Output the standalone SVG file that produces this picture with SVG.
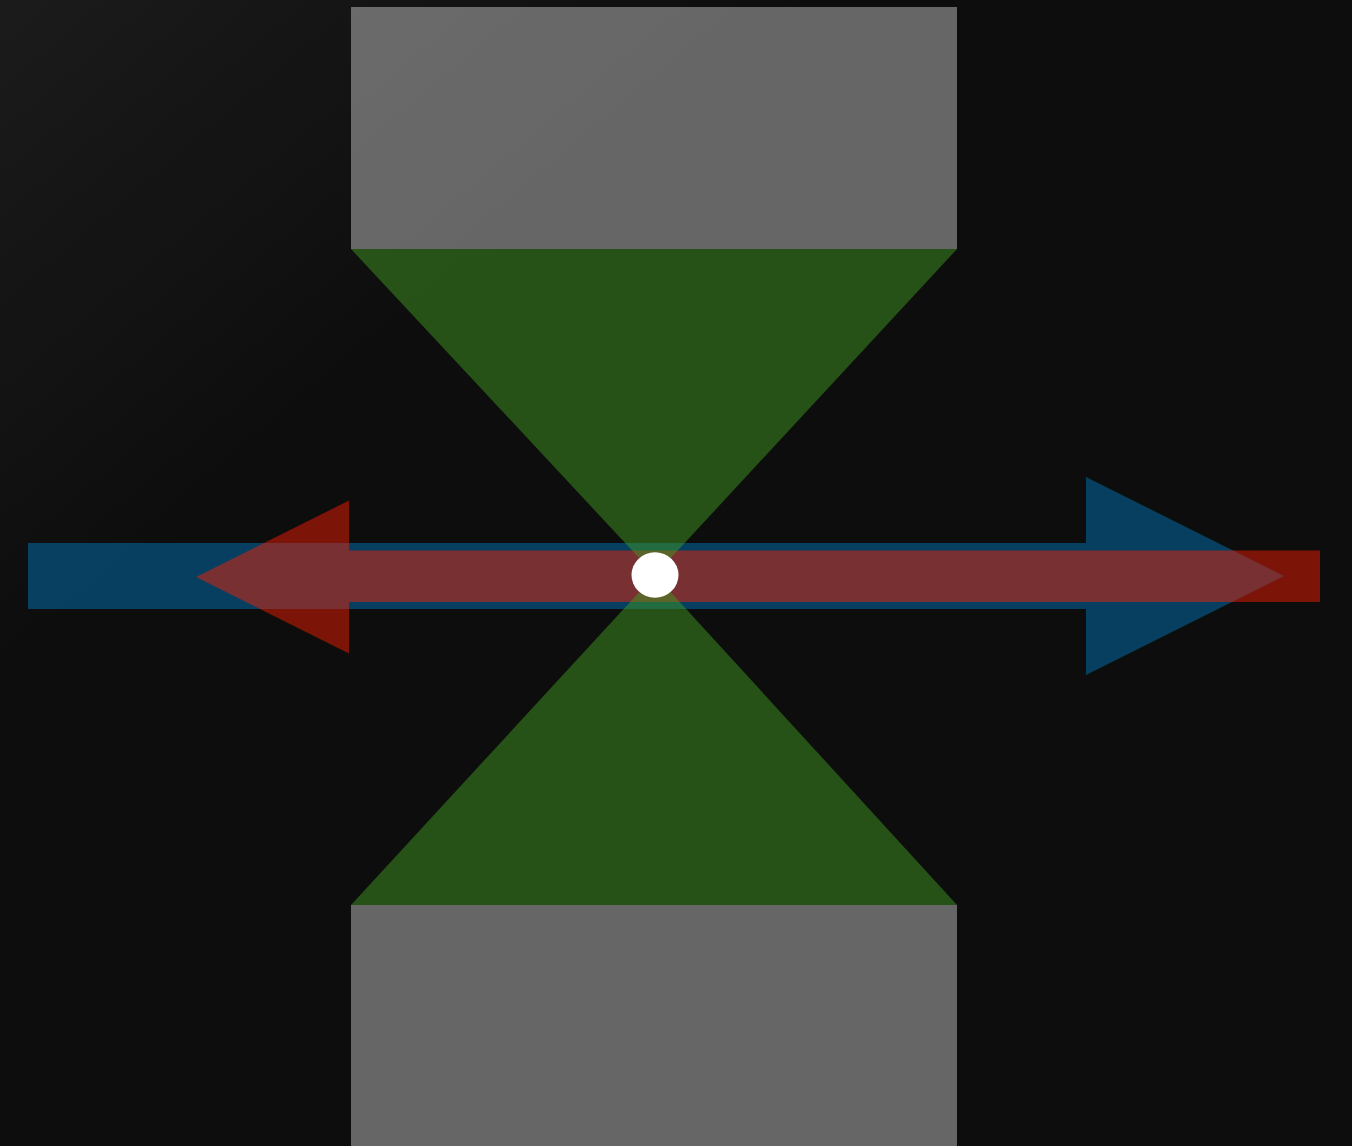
<svg xmlns="http://www.w3.org/2000/svg" width="1352" height="1146" viewBox="0 0 1352 1146">
  <defs>
    <linearGradient id="bg" x1="0" y1="0" x2="1" y2="1">
      <stop offset="0" stop-color="#1b1b1b"/>
      <stop offset="0.3" stop-color="#0d0d0d"/>
      <stop offset="1" stop-color="#0d0d0d"/>
    </linearGradient>
    <style>
      .block { fill: #ffffff; fill-opacity: 0.37; }
      .cone { fill: #3f9721; fill-opacity: 0.5; }
      .blue { fill: #0071b1; fill-opacity: 0.5; }
      .red { fill: #fa2002; fill-opacity: 0.47; }
      .dot { fill: #ffffff; }
    </style>
  </defs>
  <rect x="0" y="0" width="1352" height="1146" fill="url(#bg)"/>
  <g id="block-top"><rect class="block" x="351" y="7" width="606" height="242"/></g>
  <g id="block-bottom"><rect class="block" x="351" y="905" width="606" height="241"/></g>
  <g id="connectors">
    <polygon id="arrow-blue" class="blue" points="28,543 1086,543 1086,477 1284,576 1086,675 1086,609 28,609"/>
    <polygon id="arrow-red" class="red" points="1320,550.5 349,550.5 349,500.5 196,577 349,653.5 349,602 1320,602"/>
  </g>
  <g id="cone-top"><polygon class="cone" points="351,249 957,249 655,575"/></g>
  <g id="cone-bottom"><polygon class="cone" points="351,905 957,905 655,575"/></g>
  <g id="center"><ellipse class="dot" cx="655" cy="575" rx="23.5" ry="22.8"/></g>
</svg>
